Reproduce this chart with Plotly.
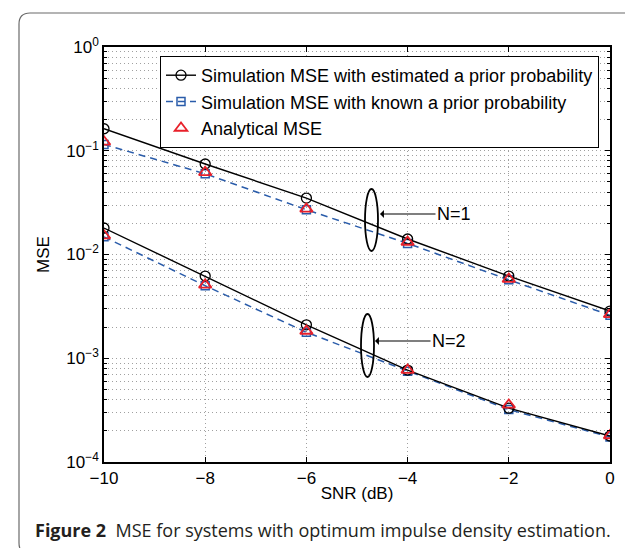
import plotly.graph_objects as go

# ---------------- data ----------------
snr = [-10, -8, -6, -4, -2, 0]
n1_est = [0.163, 0.0745, 0.035, 0.0141, 0.0062, 0.00285]
n1_known = [0.115, 0.060, 0.027, 0.0128, 0.0057, 0.0026]
n1_anal = [0.122, 0.062, 0.0275, 0.0132, 0.0058, 0.00265]
n2_est = [0.018, 0.0062, 0.0021, 0.00077, 0.00033, 0.000178]
n2_known = [0.0148, 0.0050, 0.00178, 0.00075, 0.00032, 0.000174]
n2_anal = [0.0152, 0.0051, 0.00183, 0.00077, 0.000355, 0.00018]

names = ["Simulation MSE with estimated a prior probability",
         "Simulation MSE with known a prior probability",
         "Analytical MSE"]
x_ticks = [-10, -8, -6, -4, -2, 0]
x_ticktext = ["\u221210", "\u22128", "\u22126", "\u22124", "\u22122", "0"]
y_ticks = [1e-4, 1e-3, 1e-2, 1e-1, 1]
y_ticktext = ["10<sup>\u22124</sup>", "10<sup>\u22123</sup>", "10<sup>\u22122</sup>",
              "10<sup>\u22121</sup>", "10<sup>0</sup>"]
caption = "<b>Figure 2</b>  MSE for systems with optimum impulse density estimation."

# ---------------- layout geometry ----------------
W, H = 633, 548
L, R, T, B = 96, 31, 39, 94
PW, PH = W - L - R, H - T - B


def px(xp):
    return (xp - L) / PW


def py(yp):
    return (H - B - yp) / PH


BLACK = "#000000"
BLUE = "#2a5caa"
RED = "#e8202a"
GRID = "#a0a0a0"
FONT = "Liberation Sans"

fig = go.Figure()

for i, (est, known, anal) in enumerate([(n1_est, n1_known, n1_anal),
                                        (n2_est, n2_known, n2_anal)]):
    show = i == 0
    fig.add_trace(go.Scatter(
        x=snr, y=known, mode="lines+markers", name=names[1], legendgroup="b",
        showlegend=show, legendrank=2,
        line=dict(color=BLUE, width=1.5, dash="7px,5px"),
        marker=dict(symbol="square-open", size=8, color=BLUE, line=dict(width=1.5))))
    fig.add_trace(go.Scatter(
        x=snr, y=est, mode="lines+markers", name=names[0], legendgroup="a",
        showlegend=show, legendrank=1,
        line=dict(color=BLACK, width=1.4),
        marker=dict(symbol="circle-open", size=10, color=BLACK, line=dict(width=1.3))))
    fig.add_trace(go.Scatter(
        x=snr, y=anal, mode="markers", name=names[2], legendgroup="c",
        showlegend=show, legendrank=3,
        marker=dict(symbol="triangle-up-open", size=11, color=RED, line=dict(width=1.8))))

minor_vals = [m * 10 ** e for e in range(-4, 0) for m in range(2, 10)]

fig.update_xaxes(
    range=[-10, 0], tickvals=x_ticks, ticktext=x_ticktext,
    showgrid=True, gridcolor=GRID, griddash="1px,3px", gridwidth=1,
    ticks="inside", ticklen=5, tickcolor=BLACK, mirror="allticks",
    showline=True, linecolor=BLACK, linewidth=1.5, zeroline=False,
    tickfont=dict(family=FONT, size=17, color=BLACK),
    title=dict(text="SNR (dB)", font=dict(family=FONT, size=17, color=BLACK), standoff=0),
)
fig.update_yaxes(
    type="log", range=[-4, 0], tickvals=y_ticks, ticktext=y_ticktext,
    showgrid=True, gridcolor=GRID, griddash="1px,3px", gridwidth=1,
    ticks="inside", ticklen=5, tickcolor=BLACK, mirror="allticks",
    showline=True, linecolor=BLACK, linewidth=1.5, zeroline=False,
    tickfont=dict(family=FONT, size=17, color=BLACK),
    minor=dict(tickvals=minor_vals, showgrid=True, gridcolor=GRID,
               griddash="1px,3px", gridwidth=1, ticks="inside", ticklen=3, tickcolor=BLACK),
    title=dict(text="MSE", font=dict(family=FONT, size=17, color=BLACK), standoff=12),
)

# rounded outer frame
fx0, fx1, fy0, fy1, r = 11, 632, 5, 546, 11
rx, ry = r / PW, r / PH
X0, X1, Y0, Y1 = px(fx0), px(fx1), py(fy1), py(fy0)
frame = (f"M {X0+rx},{Y1} L {X1-rx},{Y1} Q {X1},{Y1} {X1},{Y1-ry} "
         f"L {X1},{Y0+ry} Q {X1},{Y0} {X1-rx},{Y0} L {X0+rx},{Y0} "
         f"Q {X0},{Y0} {X0},{Y0+ry} L {X0},{Y1-ry} Q {X0},{Y1} {X0+rx},{Y1} Z")
shapes = [dict(type="path", xref="paper", yref="paper", path=frame,
               line=dict(color="#6b6b6b", width=1.2), layer="below")]
# ellipses marking the N groups
for (ex0, ex1, ey0, ey1) in [(357, 370, 181, 243), (353, 366, 306, 369)]:
    shapes.append(dict(type="circle", xref="paper", yref="paper",
                       x0=px(ex0), x1=px(ex1), y0=py(ey1), y1=py(ey0),
                       line=dict(color=BLACK, width=1.8)))

annotations = []
for label, hx, hy in [("N=1", 372, 206), ("N=2", 367, 333)]:
    annotations.append(dict(
        x=px(hx), y=py(hy), xref="paper", yref="paper", text=label,
        showarrow=True, arrowhead=1, arrowsize=1.2, arrowwidth=1.1, arrowcolor=BLACK,
        ax=74, ay=0, axref="pixel", ayref="pixel",
        font=dict(family=FONT, size=18, color=BLACK)))
annotations.append(dict(
    x=px(25), y=py(522), xref="paper", yref="paper", xanchor="left", yanchor="middle",
    showarrow=False, text=caption,
    font=dict(family="Open Sans", size=18, color="#231f20")))

fig.update_layout(
    width=W, height=H, margin=dict(l=L, r=R, t=T, b=B, autoexpand=False),
    paper_bgcolor="white", plot_bgcolor="white",
    showlegend=True,
    legend=dict(x=px(152), y=py(48), xanchor="left", yanchor="top",
                bgcolor="white", bordercolor=BLACK, borderwidth=1,
                font=dict(family=FONT, size=18, color=BLACK),
                tracegroupgap=0, itemwidth=30, traceorder="normal"),
    shapes=shapes, annotations=annotations,
)

fig.write_html("out.html")
